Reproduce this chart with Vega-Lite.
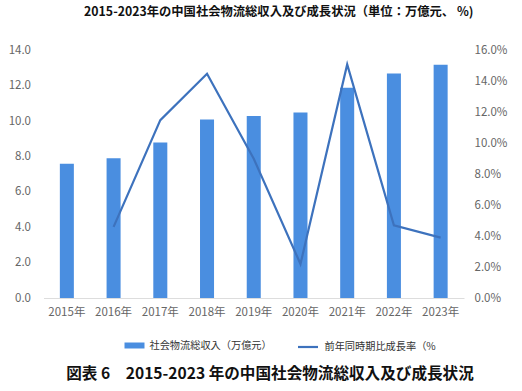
{
  "$schema": "https://vega.github.io/schema/vega-lite/v6.json",
  "autosize": "none",
  "width": 420.5,
  "height": 247.5,
  "padding": {"left": 43.5, "top": 50.5, "right": 58, "bottom": 93},
  "background": "white",
  "title": {
    "text": "2015-2023年の中国社会物流総収入及び成長状況（単位：万億元、 %)",
    "font": "Noto Sans CJK JP",
    "fontSize": 12.3,
    "fontWeight": "bold",
    "color": "#111",
    "anchor": "middle",
    "dx": 25,
    "offset": 26
  },
  "data": {
    "values": [
      {"year": "2015年", "revenue": 7.6, "growth": null},
      {"year": "2016年", "revenue": 7.9, "growth": 4.6},
      {"year": "2017年", "revenue": 8.8, "growth": 11.5},
      {"year": "2018年", "revenue": 10.1, "growth": 14.5},
      {"year": "2019年", "revenue": 10.3, "growth": 9.0},
      {"year": "2020年", "revenue": 10.5, "growth": 2.2},
      {"year": "2021年", "revenue": 11.9, "growth": 15.1},
      {"year": "2022年", "revenue": 12.7, "growth": 4.7},
      {"year": "2023年", "revenue": 13.2, "growth": 3.9}
    ]
  },
  "encoding": {
    "x": {
      "field": "year",
      "type": "nominal",
      "sort": null,
      "scale": {"paddingInner": 0, "paddingOuter": 0},
      "axis": {
        "labelAngle": 0,
        "domain": true,
        "domainColor": "#dddddd",
        "ticks": false,
        "labelPadding": 8,
        "labelFont": "Noto Sans CJK JP",
        "labelFontSize": 11.5,
        "labelColor": "#666",
        "title": "図表 6　2015-2023 年の中国社会物流総収入及び成長状況",
        "titleFont": "Noto Sans CJK JP",
        "titleFontSize": 15.6,
        "titleFontWeight": "bold",
        "titleColor": "#111",
        "titleX": 226,
        "titleY": 75,
        "titleBaseline": "middle",
        "titleAnchor": "middle"
      }
    }
  },
  "layer": [
    {
      "mark": {"type": "bar", "width": {"band": 0.3}},
      "encoding": {
        "y": {
          "field": "revenue",
          "type": "quantitative",
          "scale": {"domain": [0, 14]},
          "axis": {
            "orient": "left",
            "values": [0, 2, 4, 6, 8, 10, 12, 14],
            "format": ".1f",
            "domain": false,
            "ticks": false,
            "grid": false,
            "labelPadding": 13,
            "labelFont": "Noto Sans CJK JP",
            "labelFontSize": 11.5,
            "labelColor": "#666",
            "title": null
          }
        },
        "fill": {
          "datum": "社会物流総収入（万億元）",
          "scale": {"range": ["#4A8EE0"]},
          "legend": {
            "orient": "none",
            "legendX": 81,
            "legendY": 285,
            "padding": 0,
            "symbolType": "M-1,-0.3H1V0.3H-1Z",
            "symbolSize": 400,
            "symbolStrokeWidth": 0,
            "labelFont": "Noto Sans CJK JP",
            "labelFontSize": 10.2,
            "labelColor": "#333",
            "labelOffset": 5,
            "title": null
          }
        }
      }
    },
    {
      "mark": {"type": "line", "strokeWidth": 2.2},
      "encoding": {
        "y": {
          "field": "growth",
          "type": "quantitative",
          "scale": {"domain": [0, 16]},
          "axis": {
            "orient": "right",
            "values": [0, 2, 4, 6, 8, 10, 12, 14, 16],
            "labelExpr": "format(datum.value, '.1f') + '%'",
            "domain": false,
            "ticks": false,
            "grid": false,
            "labelPadding": 10,
            "labelFont": "Noto Sans CJK JP",
            "labelFontSize": 11.5,
            "labelColor": "#666",
            "title": null
          }
        },
        "stroke": {
          "datum": "前年同時期比成長率（%",
          "scale": {"range": ["#3D72BD"]},
          "legend": {
            "orient": "none",
            "legendX": 253,
            "legendY": 285,
            "padding": 0,
            "symbolType": "stroke",
            "symbolSize": 400,
            "symbolStrokeWidth": 2.2,
            "labelFont": "Noto Sans CJK JP",
            "labelFontSize": 10.2,
            "labelColor": "#333",
            "labelOffset": 5,
            "title": null
          }
        }
      }
    }
  ],
  "resolve": {"scale": {"y": "independent"}},
  "config": {"view": {"stroke": null}}
}
